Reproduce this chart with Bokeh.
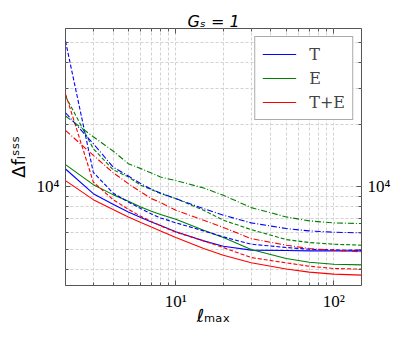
from bokeh.plotting import figure
from bokeh.models import LogAxis, FixedTicker, Legend, LegendItem
from bokeh.embed import file_html
from bokeh.resources import INLINE

# ---------------- data ----------------
ell = [2, 3, 4, 5, 6, 7, 8, 10, 15, 20, 30, 50, 70, 100, 150]

T_solid    = [12220, 9280, 8240, 7570, 7110, 6770, 6500, 6060, 5480, 5160, 4940, 4920, 4900, 4900, 4900]
E_solid    = [12830, 10260, 9180, 8520, 8000, 7630, 7350, 6975, 6170, 5690, 4975, 4500, 4320, 4220, 4190]
TE_solid   = [10730, 8680, 7770, 7160, 6720, 6400, 6125, 5690, 5030, 4670, 4290, 4000, 3865, 3780, 3740]

T_dashed   = [50870, 11770, 9350, 8460, 7855, 7400, 7080, 6700, 6125, 5730, 5280, 5090, 4990, 4956, 4938]
E_dashed   = [27560, 15330, 12130, 11180, 10190, 9710, 9284, 8780, 7710, 6900, 6216, 5560, 5380, 5280, 5220]
TE_dashed  = [28280, 10570, 8684, 7800, 7210, 6800, 6480, 6035, 5479, 5086, 4550, 4287, 4130, 4026, 3996]

T_dashdot  = [22890, 16210, 12500, 11300, 10380, 9740, 9354, 8782, 7855, 7294, 6696, 6285, 6125, 6035, 5990]
E_dashdot  = [22060, 17520, 14940, 12970, 12270, 11690, 11180, 10730, 9890, 9113, 7943, 7159, 6850, 6696, 6646]
TE_dashdot = [18800, 14230, 11730, 10380, 9460, 8782, 8400, 7712, 6898, 6360, 5620, 5221, 5030, 4938, 4850]

legend_labels = ["T", "E", "T+E"]
title_text = "G\u209b = 1"
x_label = "\u2113\u2098\u2090\u2093"
y_label = "\u0394f\u2097\u02e2\u02e2\u02e2"

x_major = [10, 100]
x_minor = [2, 3, 4, 5, 6, 7, 8, 9, 20, 30, 40, 50, 60, 70, 80, 90]
y_major = [10000]
y_minor = [4000, 5000, 6000, 7000, 8000, 9000, 20000, 30000, 40000, 50000]
x_tick_labels = {10: "10\u00b9", 100: "10\u00b2"}
y_tick_labels = {10000: "10\u2074"}

# ---------------- figure ----------------
p = figure(x_axis_type="log", y_axis_type="log",
           x_range=(2, 150), y_range=(3330, 58600),
           frame_width=296, frame_height=257,
           min_border_left=65, min_border_right=40,
           min_border_top=28, min_border_bottom=46,
           toolbar_location=None, output_backend="svg", title=title_text)
p.background_fill_color = "white"
p.border_fill_color = "white"
p.outline_line_color = "#555555"
p.outline_line_width = 1

p.title.align = "center"
p.title.text_font = "DejaVu Sans"
p.title.text_font_style = "italic"
p.title.text_font_size = "16px"
p.title.text_color = "black"
p.title.standoff = -4

bottom = p.xaxis[0]
left = p.yaxis[0]

xt = FixedTicker(ticks=x_major, minor_ticks=x_minor)
yt = FixedTicker(ticks=y_major, minor_ticks=y_minor)
bottom.ticker = xt
left.ticker = yt
p.xgrid[0].ticker = xt
p.ygrid[0].ticker = yt
bottom.major_label_overrides = x_tick_labels
left.major_label_overrides = y_tick_labels

right = LogAxis(ticker=FixedTicker(ticks=y_major, minor_ticks=y_minor),
                major_label_overrides=y_tick_labels)
top = LogAxis(ticker=FixedTicker(ticks=x_major, minor_ticks=x_minor),
              major_label_text_font_size="1px", major_label_text_alpha=0,
              major_label_standoff=0)
p.add_layout(right, "right")
p.add_layout(top, "above")

for ax in [bottom, left, right, top]:
    ax.axis_line_color = None
    ax.major_tick_in = 5
    ax.major_tick_out = 0
    ax.minor_tick_in = 3
    ax.minor_tick_out = 0
    ax.major_tick_line_color = "#555555"
    ax.minor_tick_line_color = "#555555"
for ax in [bottom, left, right]:
    ax.major_label_text_font = "Liberation Serif"
    ax.major_label_text_font_size = "17px"
    ax.major_label_text_color = "black"
    ax.major_label_standoff = 6

bottom.axis_label = x_label
bottom.axis_label_text_font = "DejaVu Sans"
bottom.axis_label_text_font_style = "normal"
bottom.axis_label_text_font_size = "18px"
bottom.axis_label_standoff = -9
bottom.axis_label_text_color = "black"

left.axis_label = y_label
left.axis_label_text_font = "DejaVu Sans"
left.axis_label_text_font_style = "normal"
left.axis_label_text_font_size = "18px"
left.axis_label_standoff = 5
left.axis_label_text_color = "black"

for g in [p.xgrid[0], p.ygrid[0]]:
    g.grid_line_color = "#d2d2d2"
    g.grid_line_dash = "3 2"
    g.minor_grid_line_color = "#d2d2d2"
    g.minor_grid_line_dash = "3 2"

# ---------------- lines ----------------
blue, green, red = "#0000ff", "#008000", "#ff0000"
DASH = "4 2"
DASHDOT = "6 2 1 2"
series = [
    (T_solid, blue, "solid"), (E_solid, green, "solid"), (TE_solid, red, "solid"),
    (T_dashed, blue, DASH), (E_dashed, green, DASH), (TE_dashed, red, DASH),
    (T_dashdot, blue, DASHDOT), (E_dashdot, green, DASHDOT), (TE_dashdot, red, DASHDOT),
]
rends = []
for vals, col, dash in series:
    r = p.line(ell, vals, line_color=col, line_width=1.1, line_dash=dash)
    rends.append(r)

legend = Legend(items=[LegendItem(label=legend_labels[i], renderers=[rends[i]]) for i in range(3)],
                location="top_right", margin=8, padding=7, spacing=4,
                glyph_width=34, glyph_height=20, label_height=20, label_standoff=13,
                label_text_font="DejaVu Serif", label_text_font_size="16px",
                border_line_color="#555555", border_line_width=1,
                background_fill_color="white", background_fill_alpha=1)
p.add_layout(legend)

open("out.html", "w").write(file_html(p, INLINE))
